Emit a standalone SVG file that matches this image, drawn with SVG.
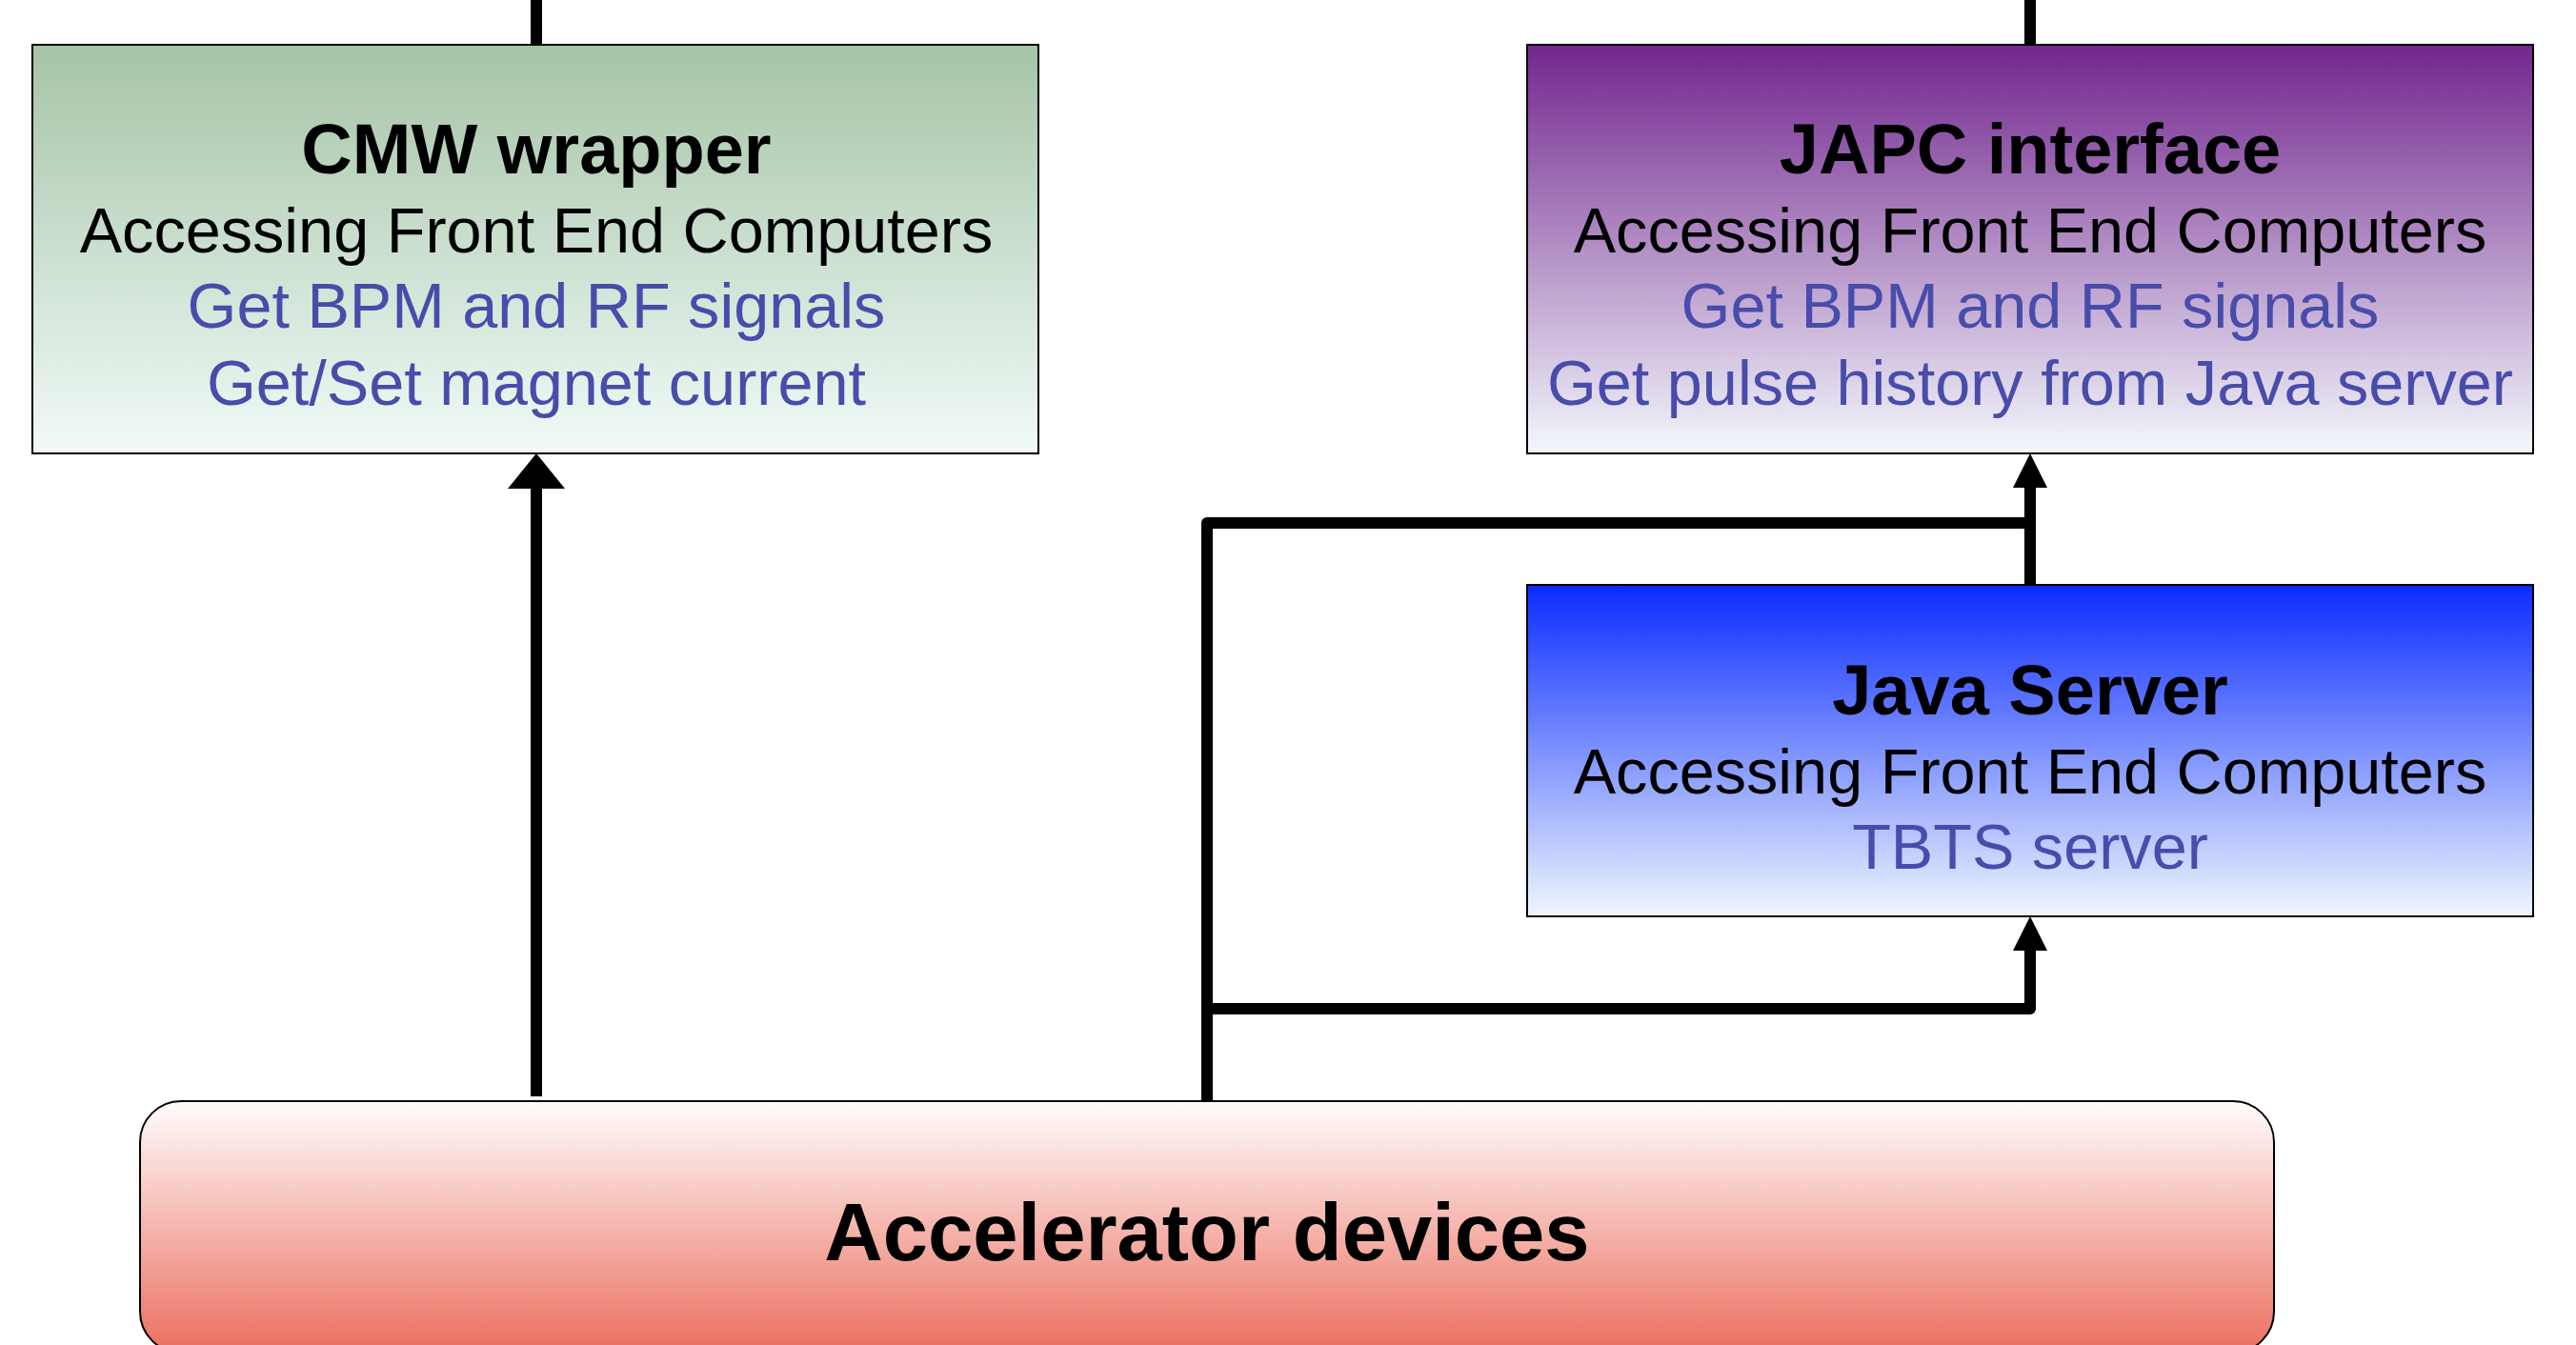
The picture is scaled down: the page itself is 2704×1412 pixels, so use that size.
<svg xmlns="http://www.w3.org/2000/svg" width="2704" height="1412" viewBox="0 0 2704 1412">
  <defs>
    <linearGradient id="gCmw" x1="0" y1="0" x2="0" y2="1">
      <stop offset="0" stop-color="#a5c4a6"/>
      <stop offset="1" stop-color="#f1faf8"/>
    </linearGradient>
    <linearGradient id="gJapc" x1="0" y1="0" x2="0" y2="1">
      <stop offset="0" stop-color="#72268e"/>
      <stop offset="1" stop-color="#f3f8fc"/>
    </linearGradient>
    <linearGradient id="gJava" x1="0" y1="0" x2="0" y2="1">
      <stop offset="0" stop-color="#0a2bff"/>
      <stop offset="1" stop-color="#eff7fc"/>
    </linearGradient>
    <linearGradient id="gAcc" x1="0" y1="0" x2="0" y2="1">
      <stop offset="0" stop-color="#fffcfc"/>
      <stop offset="1" stop-color="#eb6f5f"/>
    </linearGradient>
    <!-- arrowheads: the line stops at the base, the head carries on to the tip -->
    <marker id="headNarrow" markerUnits="userSpaceOnUse" markerWidth="37" markerHeight="36" refX="0" refY="18" orient="auto" overflow="visible">
      <path d="M0,0 L36,18 L0,36 Z" fill="#000"/>
    </marker>
    <marker id="headWide" markerUnits="userSpaceOnUse" markerWidth="38" markerHeight="60" refX="0" refY="30" orient="auto" overflow="visible">
      <path d="M0,0 L37,30 L0,60 Z" fill="#000"/>
    </marker>
  </defs>
  <style>
    .box { stroke: #000; stroke-width: 2; }
    .title { font-family: "Liberation Sans", Arial, sans-serif; font-weight: bold; font-size: 74px; text-anchor: middle; fill: #000; }
    .big { font-family: "Liberation Sans", Arial, sans-serif; font-weight: bold; font-size: 85px; text-anchor: middle; fill: #000; }
    .txt { font-family: "Liberation Sans", Arial, sans-serif; font-size: 66.6px; text-anchor: middle; fill: #000; }
    .blue { fill: #484cab; }
    .conn { fill: none; stroke: #000; stroke-width: 12; stroke-linejoin: round; }
  </style>

  <rect width="2704" height="1412" fill="#fff"/>

  <g id="connectors">
    <!-- links leaving the upper boxes off the top edge -->
    <path class="conn" d="M563,0 V48"/>
    <path class="conn" d="M2131,0 V48"/>
    <!-- accelerator devices to CMW wrapper -->
    <path class="conn" d="M563,1151 V513" marker-end="url(#headWide)"/>
    <!-- accelerator devices straight up and across to the JAPC riser -->
    <path class="conn" d="M1267,1157 V549 H2131"/>
    <!-- Java server to JAPC interface -->
    <path class="conn" d="M2131,614 V512" marker-end="url(#headNarrow)"/>
    <!-- accelerator devices to Java server -->
    <path class="conn" d="M1267,1059 H2131 V998" marker-end="url(#headNarrow)"/>
  </g>

  <g id="cmw-wrapper">
    <rect class="box" x="34" y="47" width="1056" height="429" fill="url(#gCmw)"/>
    <text class="title" x="563" y="182">CMW wrapper</text>
    <text class="txt" x="563" y="265">Accessing Front End Computers</text>
    <text class="txt blue" x="563" y="344">Get BPM and RF signals</text>
    <text class="txt blue" x="563" y="425">Get/Set magnet current</text>
  </g>

  <g id="japc-interface">
    <rect class="box" x="1603" y="47" width="1056" height="429" fill="url(#gJapc)"/>
    <text class="title" x="2131" y="182">JAPC interface</text>
    <text class="txt" x="2131" y="265">Accessing Front End Computers</text>
    <text class="txt blue" x="2131" y="344">Get BPM and RF signals</text>
    <text class="txt blue" x="2131" y="425">Get pulse history from Java server</text>
  </g>

  <g id="java-server">
    <rect class="box" x="1603" y="614" width="1056" height="348" fill="url(#gJava)"/>
    <text class="title" x="2131" y="750">Java Server</text>
    <text class="txt" x="2131" y="833">Accessing Front End Computers</text>
    <text class="txt blue" x="2131" y="912">TBTS server</text>
  </g>

  <g id="accelerator-devices">
    <rect class="box" x="147" y="1156" width="2240" height="264" rx="43" ry="43" fill="url(#gAcc)"/>
    <text class="big" x="1267" y="1323">Accelerator devices</text>
  </g>
</svg>
